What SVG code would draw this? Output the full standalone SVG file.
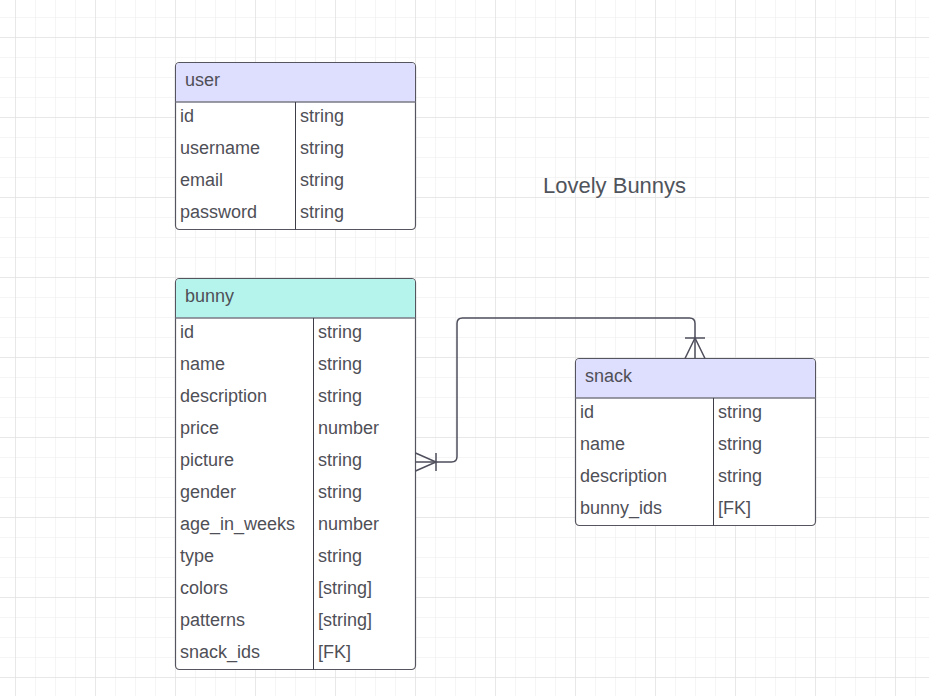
<svg xmlns="http://www.w3.org/2000/svg" width="929" height="696" viewBox="0 0 929 696">
<defs>
<pattern id="minor" x="15" y="17" width="20" height="20" patternUnits="userSpaceOnUse">
<path d="M0,0 H20 M0,0 V20" fill="none" stroke="#ebebeb" stroke-width="1"/>
</pattern>
<pattern id="major" x="15" y="37" width="80" height="80" patternUnits="userSpaceOnUse">
<path d="M0,0 H80 M0,0 V80" fill="none" stroke="#dcdcdc" stroke-width="1"/>
</pattern>
</defs>
<style>
.box{fill:#ffffff;stroke:#55555f;stroke-width:1.2}
.hdr-u{fill:#dedefe}
.hdr-b{fill:#b4f4ec}
.sep{stroke:#7a7a86;stroke-width:1.5}
.div{stroke:#3e3e48;stroke-width:1}
.t{font-family:"Liberation Sans",Arial,sans-serif;font-size:18px;fill:#4f4f57}
.title{font-family:"Liberation Sans",Arial,sans-serif;font-size:22px;fill:#4f545c}
.conn{fill:none;stroke:#4e4e5c;stroke-width:1.5}
</style>
<rect width="929" height="696" fill="#ffffff"/>
<rect width="929" height="696" fill="url(#minor)"/>
<rect width="929" height="696" fill="url(#major)"/>

<text class="title" x="543" y="193">Lovely Bunnys</text>

<g id="user">
<rect class="box" x="175.5" y="62.5" width="240" height="167" rx="4"/>
<path class="hdr-u" d="M179.5,63 H411.5 Q415,63 415,66.5 V102 H176 V66.5 Q176,63 179.5,63 Z"/>
<line class="sep" x1="175.5" y1="102" x2="415.5" y2="102"/>
<line class="div" x1="295.5" y1="102" x2="295.5" y2="229.5"/>
<text class="t" x="185" y="86">user</text>
<text class="t" x="180" y="122">id</text><text class="t" x="300" y="122">string</text>
<text class="t" x="180" y="154">username</text><text class="t" x="300" y="154">string</text>
<text class="t" x="180" y="186">email</text><text class="t" x="300" y="186">string</text>
<text class="t" x="180" y="218">password</text><text class="t" x="300" y="218">string</text>
</g>

<g id="bunny">
<rect class="box" x="175.5" y="278.5" width="240" height="391" rx="4"/>
<path class="hdr-b" d="M179.5,279 H411.5 Q415,279 415,282.5 V318 H176 V282.5 Q176,279 179.5,279 Z"/>
<line class="sep" x1="175.5" y1="318" x2="415.5" y2="318"/>
<line class="div" x1="313.5" y1="318" x2="313.5" y2="669.5"/>
<text class="t" x="185" y="302">bunny</text>
<text class="t" x="180" y="338">id</text><text class="t" x="318" y="338">string</text>
<text class="t" x="180" y="370">name</text><text class="t" x="318" y="370">string</text>
<text class="t" x="180" y="402">description</text><text class="t" x="318" y="402">string</text>
<text class="t" x="180" y="434">price</text><text class="t" x="318" y="434">number</text>
<text class="t" x="180" y="466">picture</text><text class="t" x="318" y="466">string</text>
<text class="t" x="180" y="498">gender</text><text class="t" x="318" y="498">string</text>
<text class="t" x="180" y="530">age_in_weeks</text><text class="t" x="318" y="530">number</text>
<text class="t" x="180" y="562">type</text><text class="t" x="318" y="562">string</text>
<text class="t" x="180" y="594">colors</text><text class="t" x="318" y="594">[string]</text>
<text class="t" x="180" y="626">patterns</text><text class="t" x="318" y="626">[string]</text>
<text class="t" x="180" y="658">snack_ids</text><text class="t" x="318" y="658">[FK]</text>
</g>

<g id="snack">
<rect class="box" x="575.5" y="358.5" width="240" height="167" rx="4"/>
<path class="hdr-u" d="M579.5,359 H811.5 Q815,359 815,362.5 V398 H576 V362.5 Q576,359 579.5,359 Z"/>
<line class="sep" x1="575.5" y1="398" x2="815.5" y2="398"/>
<line class="div" x1="713.5" y1="398" x2="713.5" y2="525.5"/>
<text class="t" x="585" y="382">snack</text>
<text class="t" x="580" y="418">id</text><text class="t" x="718" y="418">string</text>
<text class="t" x="580" y="450">name</text><text class="t" x="718" y="450">string</text>
<text class="t" x="580" y="482">description</text><text class="t" x="718" y="482">string</text>
<text class="t" x="580" y="514">bunny_ids</text><text class="t" x="718" y="514">[FK]</text>
</g>

<g id="connectors">
<path class="conn" d="M415.5,462 H451.5 Q457,462 457,456.5 V323.5 Q457,318 462.5,318 H689.5 Q695,318 695,323.5 V358.5"/>
<path class="conn" d="M415.5,453 L436,462 L415.5,471 M436,453 V471"/>
<path class="conn" d="M685,358.5 L695,338 L705,358.5 M685,338 H705"/>
</g>
</svg>
